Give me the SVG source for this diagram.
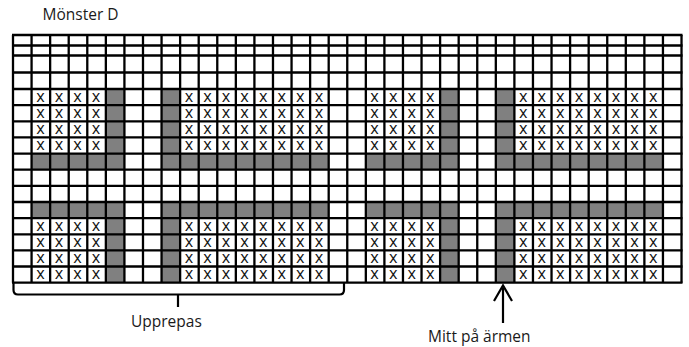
<svg xmlns="http://www.w3.org/2000/svg" width="689" height="347" viewBox="0 0 689 347">
<style>
.lbl{font-family:"Open Sans","Noto Sans","Liberation Sans",sans-serif;font-size:15.5px;fill:#1a1a1a}
.x{font-family:Roboto,"Liberation Sans",sans-serif;font-size:13.5px;fill:#111;text-anchor:middle}
.g{fill:#808080}
.ln{fill:none;stroke:#000;stroke-width:2.3}
.con{fill:none;stroke:#000;stroke-width:2.2}
</style>
<rect width="689" height="347" fill="#fff"/>
<text class="lbl" x="42.5" y="20">Mönster D</text>
<g id="shaded">
<rect class="g" x="31.57" y="153.6" width="92.85" height="16.1"/>
<rect class="g" x="161.56" y="153.6" width="167.13" height="16.1"/>
<rect class="g" x="365.83" y="153.6" width="92.85" height="16.1"/>
<rect class="g" x="495.82" y="153.6" width="167.13" height="16.1"/>
<rect class="g" x="31.57" y="202" width="92.85" height="16.1"/>
<rect class="g" x="161.56" y="202" width="167.13" height="16.1"/>
<rect class="g" x="365.83" y="202" width="92.85" height="16.1"/>
<rect class="g" x="495.82" y="202" width="167.13" height="16.1"/>
<rect class="g" x="105.85" y="89" width="18.57" height="64.6"/>
<rect class="g" x="161.56" y="89" width="18.57" height="64.6"/>
<rect class="g" x="440.11" y="89" width="18.57" height="64.6"/>
<rect class="g" x="495.82" y="89" width="18.57" height="64.6"/>
<rect class="g" x="105.85" y="218.1" width="18.57" height="64.6"/>
<rect class="g" x="161.56" y="218.1" width="18.57" height="64.6"/>
<rect class="g" x="440.11" y="218.1" width="18.57" height="64.6"/>
<rect class="g" x="495.82" y="218.1" width="18.57" height="64.6"/>
</g>
<g id="grid">
<path class="ln" d="M13 35V282.7M31.57 35V282.7M50.14 35V282.7M68.71 35V282.7M87.28 35V282.7M105.85 35V282.7M124.42 35V282.7M142.99 35V282.7M161.56 35V282.7M180.13 35V282.7M198.7 35V282.7M217.27 35V282.7M235.84 35V282.7M254.41 35V282.7M272.98 35V282.7M291.55 35V282.7M310.12 35V282.7M328.69 35V282.7M347.26 35V282.7M365.83 35V282.7M384.4 35V282.7M402.97 35V282.7M421.54 35V282.7M440.11 35V282.7M458.68 35V282.7M477.25 35V282.7M495.82 35V282.7M514.39 35V282.7M532.96 35V282.7M551.53 35V282.7M570.1 35V282.7M588.67 35V282.7M607.24 35V282.7M625.81 35V282.7M644.38 35V282.7M662.95 35V282.7M681.52 35V282.7"/>
<path class="ln" d="M12 35H682.5M12 45.5H682.5M12 55.5H682.5M12 72.5H682.5M12 89H682.5M12 105.1H682.5M12 121.3H682.5M12 137.4H682.5M12 153.6H682.5M12 169.7H682.5M12 185.8H682.5M12 202H682.5M12 218.1H682.5M12 234.3H682.5M12 250.4H682.5M12 266.5H682.5M12 282.7H682.5"/>
</g>
<g id="marks">
<text class="x" x="40.4 58.9 77.5 96.1 188.9 207.5 226.1 244.6 263.2 281.8 300.3 318.9 374.6 393.2 411.8 430.3 523.2 541.8 560.3 578.9 597.5 616 634.6 653.2" y="101.7">XXXXXXXXXXXXXXXXXXXXXXXX</text>
<text class="x" x="40.4 58.9 77.5 96.1 188.9 207.5 226.1 244.6 263.2 281.8 300.3 318.9 374.6 393.2 411.8 430.3 523.2 541.8 560.3 578.9 597.5 616 634.6 653.2" y="117.8">XXXXXXXXXXXXXXXXXXXXXXXX</text>
<text class="x" x="40.4 58.9 77.5 96.1 188.9 207.5 226.1 244.6 263.2 281.8 300.3 318.9 374.6 393.2 411.8 430.3 523.2 541.8 560.3 578.9 597.5 616 634.6 653.2" y="134">XXXXXXXXXXXXXXXXXXXXXXXX</text>
<text class="x" x="40.4 58.9 77.5 96.1 188.9 207.5 226.1 244.6 263.2 281.8 300.3 318.9 374.6 393.2 411.8 430.3 523.2 541.8 560.3 578.9 597.5 616 634.6 653.2" y="150.1">XXXXXXXXXXXXXXXXXXXXXXXX</text>
<text class="x" x="40.4 58.9 77.5 96.1 188.9 207.5 226.1 244.6 263.2 281.8 300.3 318.9 374.6 393.2 411.8 430.3 523.2 541.8 560.3 578.9 597.5 616 634.6 653.2" y="230.8">XXXXXXXXXXXXXXXXXXXXXXXX</text>
<text class="x" x="40.4 58.9 77.5 96.1 188.9 207.5 226.1 244.6 263.2 281.8 300.3 318.9 374.6 393.2 411.8 430.3 523.2 541.8 560.3 578.9 597.5 616 634.6 653.2" y="247">XXXXXXXXXXXXXXXXXXXXXXXX</text>
<text class="x" x="40.4 58.9 77.5 96.1 188.9 207.5 226.1 244.6 263.2 281.8 300.3 318.9 374.6 393.2 411.8 430.3 523.2 541.8 560.3 578.9 597.5 616 634.6 653.2" y="263.1">XXXXXXXXXXXXXXXXXXXXXXXX</text>
<text class="x" x="40.4 58.9 77.5 96.1 188.9 207.5 226.1 244.6 263.2 281.8 300.3 318.9 374.6 393.2 411.8 430.3 523.2 541.8 560.3 578.9 597.5 616 634.6 653.2" y="279.2">XXXXXXXXXXXXXXXXXXXXXXXX</text>
</g>
<g id="connectors">
<path class="con" d="M13.5 283V290Q13.5 294.5 18 294.5H339.5Q344 294.5 344 290V283M178 294.5V307"/>
<path class="con" stroke-width="1.8" d="M503 288V323"/>
<path class="con" stroke-width="4.5" stroke-linejoin="miter" d="M494 301L503 285.5L512 301"/>
</g>
<g id="labels">
<text class="lbl" x="131" y="327">Upprepas</text>
<text class="lbl" x="428" y="342">Mitt på ärmen</text>
</g>
</svg>
